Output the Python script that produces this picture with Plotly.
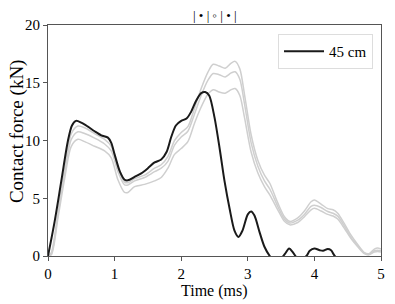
import plotly.graph_objects as go

# Black curve (45 cm)
t_black = [0, 0.1, 0.2, 0.3, 0.36, 0.42, 0.5, 0.6, 0.7, 0.8, 0.9, 0.95, 1.0, 1.08, 1.15, 1.2,
           1.3, 1.4, 1.5, 1.6, 1.7, 1.78, 1.85, 1.92, 2.0, 2.08, 2.15, 2.22, 2.3, 2.36, 2.42,
           2.5, 2.58, 2.65, 2.73, 2.8, 2.86, 2.92, 3.0, 3.05, 3.1, 3.18, 3.25, 3.33, 3.4, 3.5,
           3.56, 3.62, 3.68, 3.73, 3.8, 3.88, 3.93, 4.0, 4.08, 4.13, 4.2, 4.25, 4.3, 4.36, 4.5, 5.0]
f_black = [0, 3.0, 6.5, 10.0, 11.3, 11.7, 11.55, 11.2, 10.8, 10.45, 10.25, 9.8, 8.8, 7.3, 6.6, 6.55,
           6.85, 7.15, 7.6, 8.1, 8.35, 9.0, 10.3, 11.3, 11.7, 11.9, 12.5, 13.4, 14.1, 14.2, 13.9,
           12.0, 9.2, 6.5, 4.0, 2.2, 1.65, 2.2, 3.6, 3.85, 3.5, 2.0, 0.8, 0, -0.4, -0.2,
           0.2, 0.65, 0.3, -0.1, -0.3, 0, 0.45, 0.65, 0.5, 0.45, 0.6, 0.5, 0.05, -0.3, -0.5, -0.5]

# Grey curves (other configurations)
t_grey = [0, 0.05, 0.15, 0.25, 0.35, 0.45, 0.55, 0.7, 0.85, 0.95, 1.05, 1.15, 1.2, 1.3, 1.45,
          1.6, 1.7, 1.8, 1.9, 2.0, 2.1, 2.2, 2.3, 2.4, 2.48, 2.57, 2.66, 2.75, 2.81, 2.88, 2.95,
          3.05, 3.15, 3.25, 3.33, 3.45, 3.55, 3.63, 3.75, 3.85, 3.95, 4.0, 4.1, 4.2, 4.28, 4.35,
          4.45, 4.55, 4.65, 4.75, 4.82, 4.9, 4.95, 5.0]
f_grey_a = [0, 0.3, 3.8, 7.5, 10.6, 11.25, 11.1, 10.6, 10.1, 9.5, 7.6, 6.4, 6.35, 6.7, 7.0,
            7.6, 7.9, 8.6, 10.0, 10.7, 11.2, 12.8, 14.5, 15.9, 16.6, 16.45, 16.25, 16.7, 16.85, 16.2, 14.0,
            10.5, 8.3, 7.0, 6.3, 4.6, 3.4, 3.0, 3.3, 3.9, 4.7, 4.85, 4.5, 4.1, 4.0, 3.7,
            2.8, 1.8, 1.0, 0.3, 0.2, 0.6, 0.7, 0.6]
f_grey_b = [0, 0.2, 3.6, 7.2, 10.1, 10.76, 10.6, 10.2, 9.7, 9.1, 7.3, 6.15, 6.15, 6.5, 6.8,
            7.3, 7.6, 8.2, 9.6, 10.3, 10.8, 12.3, 13.9, 15.2, 15.8, 15.7, 15.5, 15.85, 15.95, 15.3, 13.2,
            9.8, 7.8, 6.5, 5.8, 4.3, 3.2, 2.85, 3.1, 3.6, 4.3, 4.4, 4.2, 3.85, 3.7, 3.45,
            2.6, 1.6, 0.9, 0.25, 0.15, 0.45, 0.5, 0.45]
f_grey_c = [0, 0.1, 3.3, 6.7, 9.5, 10.1, 9.9, 9.5, 9.1, 8.5, 6.6, 5.5, 5.5, 6.0, 6.2,
            6.5, 6.8, 7.6, 8.8, 9.3, 9.9, 11.5, 12.9, 14.0, 14.4, 14.2, 14.1, 14.4, 14.5, 13.9, 12.0,
            9.0, 7.2, 6.0, 5.3, 4.0, 3.0, 2.7, 2.9, 3.4, 4.0, 4.13, 3.9, 3.6, 3.46, 3.2,
            2.4, 1.5, 0.8, 0.2, 0.1, 0.35, 0.4, 0.35]

x_ticks = [0, 1, 2, 3, 4, 5]
y_ticks = [0, 5, 10, 15, 20]
title_text = "| • | ◦ | • |"
x_label = "Time (ms)"
y_label = "Contact force (kN)"

FONT = "Liberation Serif"
GREY = "#cfcfcf"

fig = go.Figure()
for f in (f_grey_a, f_grey_b, f_grey_c):
    fig.add_trace(go.Scatter(x=t_grey, y=f, mode="lines", line=dict(color=GREY, width=1.5, shape="spline", smoothing=0.8),
                             showlegend=False, hoverinfo="skip"))
fig.add_trace(go.Scatter(x=t_black, y=f_black, mode="lines", name="45 cm",
                         line=dict(color="#1a1a1a", width=2, shape="spline", smoothing=0.8)))

axis_common = dict(showgrid=False, zeroline=False, showline=True, linecolor="#555555", linewidth=1,
                   mirror=True, ticks="outside", ticklen=4, tickcolor="#555555", automargin=False,
                   tickfont=dict(family=FONT, size=15, color="black"))

fig.update_layout(
    width=395, height=304,
    margin=dict(l=48, r=14, t=25, b=48),
    paper_bgcolor="white", plot_bgcolor="white",
    font=dict(family=FONT, color="black"),
    xaxis=dict(range=[0, 5], tickvals=x_ticks, **axis_common),
    yaxis=dict(range=[0, 20], tickvals=y_ticks, **axis_common),
    legend=dict(x=0.976, y=0.961, xanchor="right", yanchor="top", bgcolor="white", itemwidth=40,
                bordercolor="#dddddd", borderwidth=1, font=dict(family=FONT, size=15)),
    annotations=[
        dict(text=title_text, x=0.5, y=1.0, xref="paper", yref="paper", xanchor="center", yanchor="bottom",
             yshift=0, showarrow=False, font=dict(family=FONT, size=13, color="black")),
        dict(text=x_label, x=0.5, y=-0.152, xref="paper", yref="paper", xanchor="center", yanchor="middle",
             showarrow=False, font=dict(family=FONT, size=16, color="black")),
        dict(text=y_label, x=-0.093, y=0.541, xref="paper", yref="paper", xanchor="center", yanchor="middle",
             textangle=-90, showarrow=False, font=dict(family=FONT, size=19, color="black")),
    ],
)

fig.write_html("out.html", config={"displayModeBar": False}, post_script="document.body.style.margin='0';")
